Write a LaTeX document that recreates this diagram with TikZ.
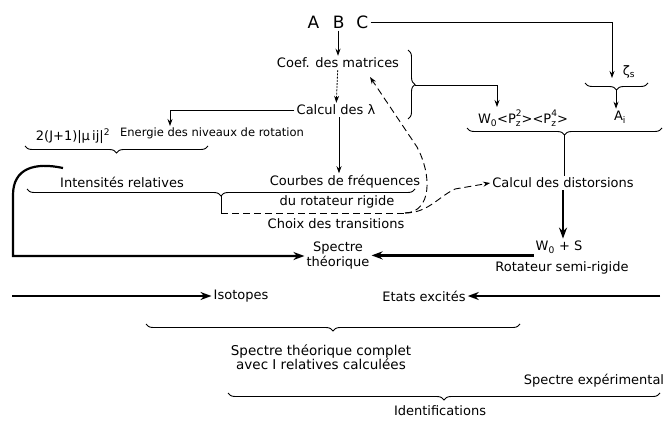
\documentclass[tikz,border=0pt]{standalone}
\usepackage{fontspec}
\setmainfont{DejaVu Sans}
\usetikzlibrary{arrows.meta,decorations.pathreplacing}
\newcommand{\pz}[1]{P\rlap{\raisebox{-0.45ex}{\fontsize{9}{9}\selectfont z}}\raisebox{1.05ex}{\fontsize{9}{9}\selectfont #1}}

\begin{document}
\begin{tikzpicture}[x=1pt,y=-1pt, >={Stealth[length=7pt,width=5pt]},
    lbl/.style={font=\fontsize{13}{15}\selectfont, inner sep=2pt},
    sml/.style={font=\fontsize{11.5}{13}\selectfont, inner sep=2pt},
    arr/.style={draw,line width=0.8pt,->},
    tarr/.style={draw,line width=2.2pt,-{Stealth[length=11pt,width=8pt]}},
    dsh/.style={draw,line width=0.9pt,dash pattern=on 7pt off 4pt},
    brc/.style={draw,line width=0.9pt,decorate,decoration={brace,amplitude=7pt}},
    brcm/.style={draw,line width=0.9pt,decorate,decoration={brace,amplitude=7pt,mirror}}]
    \useasboundingbox (0,0) rectangle (668,422);

    \node[lbl, font=\fontsize{17}{19}\selectfont] (abc) at (338,22) {A\hspace{0.8em}B\hspace{0.7em}C};
    \node[lbl] (coef) at (338,63) {Coef. des matrices};
    \node[lbl] (lam) at (336,110) {Calcul des λ};
    \node[sml] (energ) at (212,133) {Energie des niveaux de rotation};
    \node[lbl] (mu) at (73,136) {2(J+1)|μ\,ij|\textsuperscript{2}};
    \node[lbl] (intens) at (122,182) {Intensités relatives};
    \node[lbl] (courbes) at (345,182) {Courbes de fréquences};
    \node[lbl] (rotrig) at (337,202) {du rotateur rigide};
    \node[lbl] (choix) at (336,224) {Choix des transitions};
    \node[lbl, align=center] (spec) at (338,256) {Spectre\\théorique};
    \node[lbl] (wzero) at (523,118) {W\textsubscript{0}<\pz{2}><\pz{4}>};
    \node[lbl] (zeta) at (629,72) {ζ\textsubscript{s}};
    \node[lbl] (ai) at (620,117) {A\textsubscript{i}};
    \node[lbl] (dist) at (563,183) {Calcul des distorsions};
    \node[lbl] (wos) at (559,247) {W\textsubscript{0} + S};
    \node[lbl] (rotsr) at (562,268) {Rotateur semi-rigide};
    \node[lbl] (isot) at (241,296) {Isotopes};
    \node[lbl] (etats) at (424,296) {Etats excités};
    \node[lbl, align=center, font=\fontsize{13.5}{12}\selectfont] (complet) at (321,357) {Spectre théorique complet\\avec I relatives calculées};
    \node[lbl] (exper) at (594,381) {Spectre expérimental};
    \node[lbl] (ident) at (440,411) {Identifications};

    \coordinate (energin) at (170,126);
    \coordinate (zetain) at (612,78);
    \coordinate (rbtip) at (415,85);
    \coordinate (wzin) at (497,107);
    \coordinate (zbtip) at (616,90);
    \coordinate (wbtip) at (564,135);
    \coordinate (itip) at (221,196);
    \coordinate (dcorner) at (221,213);
    \coordinate (bend) at (405,213);
    \coordinate (coefin) at (370,77);
    \coordinate (loopst) at (63,168);
    \coordinate (isoin) at (12,296);
    \coordinate (etin) at (660,296);

    \draw[arr] (abc) -- (coef);
    \draw[arr, dash pattern=on 2pt off 1.2pt] (coef) -- (lam);
    \draw[arr] (lam.south -| 339,0) -- (courbes.north -| 339,0);
    \draw[arr] (lam.west) -| (energin);
    \draw[arr] (abc.east) -| (zetain);

    \draw[brc] (408,50) -- (408,119);
    \draw[arr] (rbtip) -| (wzin);
    \draw[brcm] (585,83) -- (648,83);
    \draw[arr] (zbtip) -- (zbtip |- ai.north);
    \draw[brcm] (467,128) -- (662,128);
    \draw[draw,line width=0.8pt] (wbtip) -- (wbtip |- dist.north);
    \draw[tarr] (dist.south) -- (dist.south |- wos.north);
    \draw[tarr] (wos.south west) -- (wos.south west -| spec.east);

    \draw[brcm] (25,146) -- (208,146);
    \draw[brcm] (27,189) -- (415,189);
    \draw[line width=0.8pt] (itip) -- (dcorner) -- ++(6,0);
    \draw[dsh] (dcorner) -- (bend);
    \draw[dsh,->] (bend) .. controls (432,212) and (432,175) .. (417,147) -- (coefin);
    \draw[dsh,->] (bend) .. controls (428,213) and (438,197) .. (455,189) -- (dist.west);
    \draw[tarr] (loopst) .. controls (35,162) and (13,168) .. (13,195) |- (spec.west);

    \draw[tarr] (isoin) -- (isot);
    \draw[tarr] (etin) -- (etats);
    \draw[brcm] (146,324) -- (520,324);
    \draw[brcm] (228,393) -- (660,393);
  \end{tikzpicture}
\end{document}
